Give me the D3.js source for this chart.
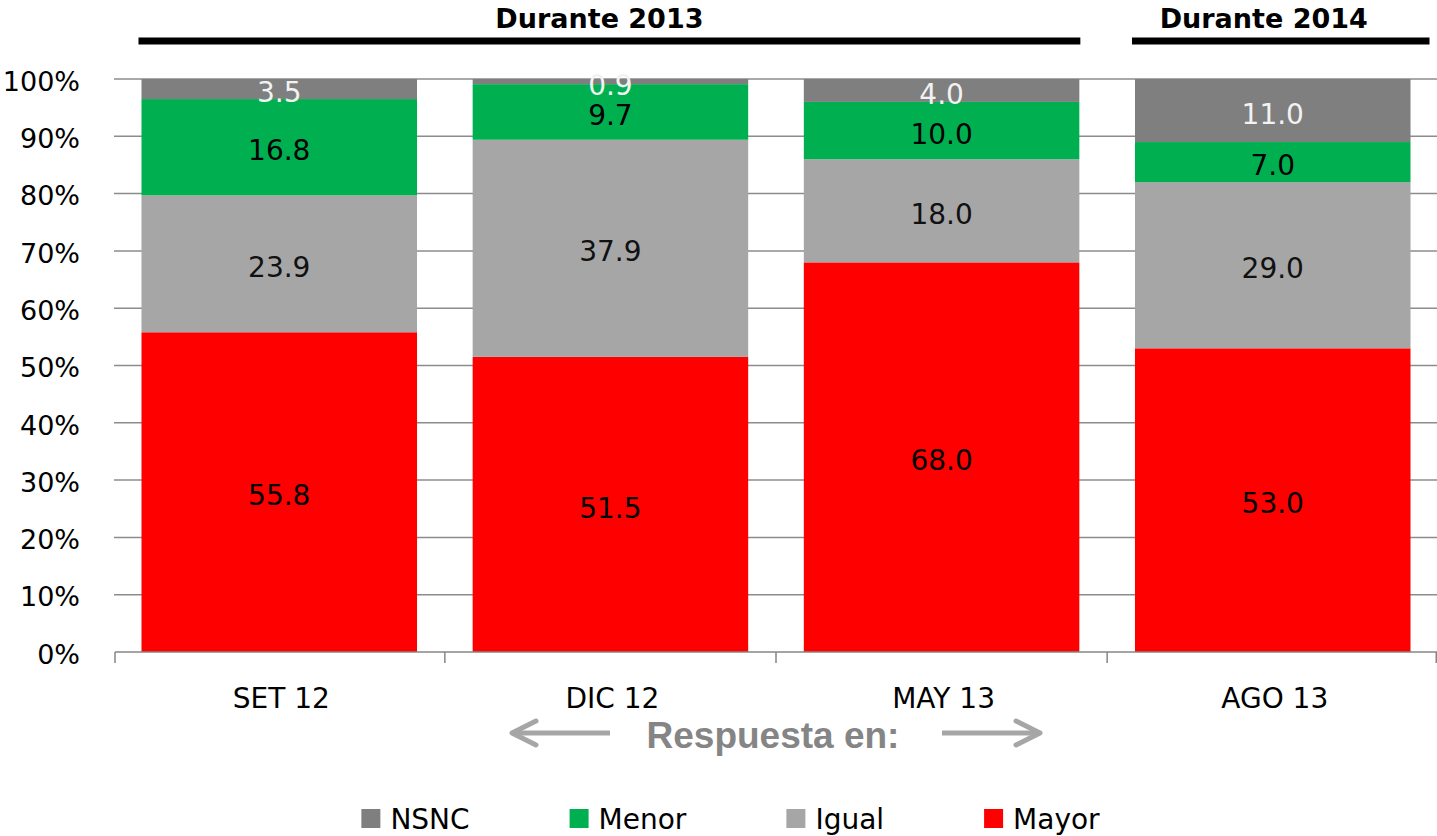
<!DOCTYPE html>
<html>
<head>
<meta charset="utf-8">
<script src="https://cdn.jsdelivr.net/npm/d3@7"></script>
<style>
  html, body { margin: 0; padding: 0; background: #fff; }
  svg { display: block; }
</style>
</head>
<body>
<svg id="chart" width="1437" height="836"></svg>
<script>
// ---- data ----
const categories = ["SET 12", "DIC 12", "MAY 13", "AGO 13"];
const seriesNames = ["Mayor", "Igual", "Menor", "NSNC"]; // bottom to top
const mayor = [55.8, 51.5, 68.0, 53.0];
const igual = [23.9, 37.9, 18.0, 29.0];
const menor = [16.8, 9.7, 10.0, 7.0];
const nsnc  = [3.5, 0.9, 4.0, 11.0];
const yTicks = [0, 10, 20, 30, 40, 50, 60, 70, 80, 90, 100];
const yTickLabels = yTicks.map(d => d + "%");
const legendOrder = ["NSNC", "Menor", "Igual", "Mayor"];
const headers = [
  { text: "Durante 2013", from: "SET 12", to: "MAY 13" },
  { text: "Durante 2014", from: "AGO 13", to: "AGO 13" }
];
const footerText = "Respuesta en:";

const colors = { Mayor: "#FF0000", Igual: "#A6A6A6", Menor: "#00B050", NSNC: "#7F7F7F" };
const labelColors = { Mayor: "#000", Igual: "#111", Menor: "#000", NSNC: "#F2F2F2" };

const table = categories.map((c, i) => ({ cat: c, Mayor: mayor[i], Igual: igual[i], Menor: menor[i], NSNC: nsnc[i] }));
const stacked = d3.stack().keys(seriesNames)(table);

// ---- layout ----
const svg = d3.select("#chart");
const plotLeft = 115, plotRight = 1437, plotTop = 79, plotBottom = 652;

const x = d3.scaleBand().domain(categories).range([plotLeft, plotRight]).paddingInner(0.168).paddingOuter(0.08);
const y = d3.scaleLinear().domain([0, 100]).range([plotBottom, plotTop]);

const font = "'DejaVu Sans', sans-serif";

// gridlines
svg.append("g").selectAll("line").data(yTicks.slice(1)).join("line")
  .attr("x1", plotLeft - 1).attr("x2", plotRight)
  .attr("y1", d => y(d)).attr("y2", d => y(d))
  .attr("stroke", "#8C8C8C").attr("stroke-width", 1.5);

// y tick labels
svg.append("g").selectAll("text").data(yTicks).join("text")
  .attr("x", 80).attr("y", d => y(d) + 2).attr("dy", "0.36em")
  .attr("text-anchor", "end")
  .attr("font-family", font).attr("font-size", 27).attr("fill", "#000")
  .text((d, i) => yTickLabels[i]);

// bars
const gBars = svg.append("g");
stacked.forEach(layer => {
  const key = layer.key;
  gBars.append("g").selectAll("rect").data(layer).join("rect")
    .attr("x", d => x(d.data.cat))
    .attr("width", x.bandwidth())
    .attr("y", d => y(d[1]))
    .attr("height", d => y(d[0]) - y(d[1]))
    .attr("fill", colors[key]);
});

// value labels
stacked.forEach(layer => {
  const key = layer.key;
  gBars.append("g").selectAll("text").data(layer).join("text")
    .attr("x", d => x(d.data.cat) + x.bandwidth() / 2)
    .attr("y", d => Math.max(y((d[0] + d[1]) / 2) + 3, y(100) + 6))
    .attr("dy", "0.36em")
    .attr("text-anchor", "middle")
    .attr("font-family", font).attr("font-size", 28)
    .attr("fill", labelColors[key])
    .text(d => (d[1] - d[0]).toFixed(1));
});

// x axis
const xAxis = svg.append("g");
xAxis.append("line").attr("x1", plotLeft).attr("x2", plotRight).attr("y1", plotBottom).attr("y2", plotBottom)
  .attr("stroke", "#868686").attr("stroke-width", 1.5);
const boundaries = categories.map(c => x(c) - x.step() * x.paddingInner() / 2);
boundaries[0] = plotLeft;
boundaries.push(plotRight - 0.75);
xAxis.selectAll("line.tick").data(boundaries).join("line").attr("class", "tick")
  .attr("x1", d => d).attr("x2", d => d).attr("y1", plotBottom).attr("y2", plotBottom + 11)
  .attr("stroke", "#868686").attr("stroke-width", 1.5);
xAxis.selectAll("text").data(categories).join("text")
  .attr("x", d => x(d) + x.bandwidth() / 2 + 2).attr("y", 708)
  .attr("text-anchor", "middle")
  .attr("font-family", font).attr("font-size", 28).attr("fill", "#000")
  .text(d => d);

// headers
const gHead = svg.append("g");
headers.forEach((h, i) => {
  const x0 = x(h.from) - 3;
  const x1 = i === headers.length - 1 ? x(h.to) + x.bandwidth() + 19 : x(h.to) + x.bandwidth() + 1;
  gHead.append("line").attr("x1", x0).attr("x2", x1).attr("y1", 41).attr("y2", 41)
    .attr("stroke", "#000").attr("stroke-width", 7);
  const cx = i === headers.length - 1 ? (x0 + x1) / 2 - 17 : (x0 + x1) / 2 - 10;
  gHead.append("text").attr("x", cx).attr("y", 28)
    .attr("text-anchor", "middle")
    .attr("font-family", font).attr("font-weight", "bold").attr("font-size", 27)
    .attr("fill", "#000")
    .text(h.text);
});

// footer "Respuesta en:" with arrows
const midX = boundaries[2];
const gFoot = svg.append("g");
gFoot.append("text").attr("x", midX - 3).attr("y", 748)
  .attr("text-anchor", "middle")
  .attr("font-family", "'Liberation Sans', Arial, sans-serif").attr("font-weight", "bold")
  .attr("font-size", 37).attr("fill", "#858585")
  .text(footerText);
const arrowY = 733;
const arrowColor = "#A6A6A6";
[-1, 1].forEach(s => {
  const inner = midX + s * 166;
  const tip = midX + s * 264;
  gFoot.append("line").attr("x1", inner).attr("x2", tip).attr("y1", arrowY).attr("y2", arrowY)
    .attr("stroke", arrowColor).attr("stroke-width", 5);
  gFoot.append("path")
    .attr("d", `M${tip - s * 24},${arrowY - 12} L${tip},${arrowY} L${tip - s * 24},${arrowY + 12}`)
    .attr("fill", "none").attr("stroke", arrowColor).attr("stroke-width", 5)
    .attr("stroke-linecap", "round").attr("stroke-linejoin", "round");
});

// legend
const gLeg = svg.append("g");
const legItems = gLeg.selectAll("g").data(legendOrder).join("g");
legItems.append("rect").attr("width", 19).attr("height", 19).attr("y", 809)
  .attr("fill", d => colors[d]);
legItems.append("text").attr("x", 29).attr("y", 829)
  .attr("font-family", font).attr("font-size", 28).attr("fill", "#000")
  .text(d => d);
let cursor = 0;
const positions = [];
legItems.each(function () {
  const w = this.querySelector("text").getComputedTextLength();
  positions.push(cursor);
  cursor += 29 + w + 100;
});
const totalW = cursor - 100;
const startX = 730.5 - totalW / 2;
legItems.attr("transform", (d, i) => `translate(${startX + positions[i]},0)`);
</script>
</body>
</html>
